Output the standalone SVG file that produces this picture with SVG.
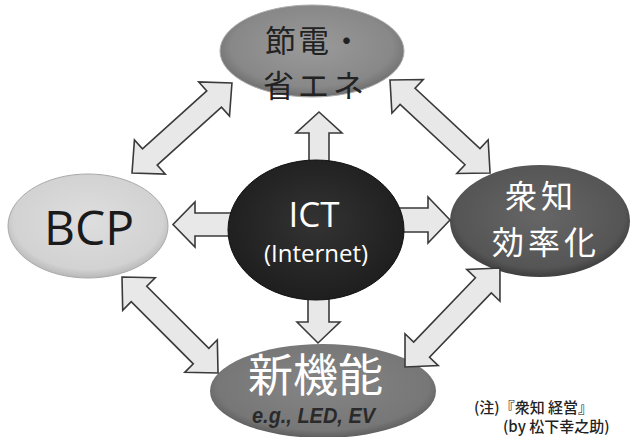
<svg xmlns="http://www.w3.org/2000/svg" width="632" height="437" viewBox="0 0 632 437">
<style>
.arr{fill:#e8e8e8;stroke:#3a3a3a;stroke-width:1.6;stroke-linejoin:miter}
.jp{font-family:"Noto Sans CJK JP","Noto Sans",sans-serif}
.la{font-family:"Open Sans","Liberation Sans",sans-serif;text-anchor:middle}
</style>
<defs>
<radialGradient id="gTop" cx="50%" cy="45%" r="55%"><stop offset="0" stop-color="#9a9a9a"/><stop offset="0.8" stop-color="#888"/><stop offset="1" stop-color="#6e6e6e"/></radialGradient>
<radialGradient id="gBcp" cx="50%" cy="45%" r="55%"><stop offset="0" stop-color="#dedede"/><stop offset="0.85" stop-color="#d2d2d2"/><stop offset="1" stop-color="#b8b8b8"/></radialGradient>
<radialGradient id="gIct" cx="50%" cy="45%" r="55%"><stop offset="0" stop-color="#333"/><stop offset="1" stop-color="#1e1e1e"/></radialGradient>
<radialGradient id="gR" cx="50%" cy="45%" r="55%"><stop offset="0" stop-color="#666"/><stop offset="0.85" stop-color="#555"/><stop offset="1" stop-color="#3e3e3e"/></radialGradient>
<radialGradient id="gB" cx="50%" cy="45%" r="55%"><stop offset="0" stop-color="#858585"/><stop offset="0.85" stop-color="#777"/><stop offset="1" stop-color="#5e5e5e"/></radialGradient>
</defs>
<rect width="632" height="437" fill="#fff"/>
<g id="node-setsuden">
<ellipse cx="312" cy="51" rx="92" ry="46" fill="url(#gTop)" stroke="#aaa" stroke-width="1"/>
<text class="jp" x="265" y="52" font-size="31" letter-spacing="2" fill="#222">節電・</text>
<text class="jp" x="263" y="97" font-size="31" letter-spacing="4" fill="#222">省エネ</text>
</g>
<g id="node-bcp">
<ellipse cx="88" cy="226" rx="80" ry="52" fill="url(#gBcp)" stroke="#aaa" stroke-width="1"/>
<text class="la" x="89" y="245" font-size="48" fill="#1a1a1a">BCP</text>
</g>
<g id="node-shuchi">
<ellipse cx="540" cy="221" rx="90" ry="56" fill="url(#gR)"/>
<text class="jp" x="505" y="208" font-size="32" letter-spacing="4" fill="#fff">衆知</text>
<text class="jp" x="492" y="254" font-size="32" letter-spacing="4" fill="#fff">効率化</text>
</g>
<g id="node-shinkino">
<ellipse cx="323" cy="391" rx="113" ry="47" fill="url(#gB)"/>
<text class="jp" x="248" y="392" font-size="45" fill="#fff">新機能</text>
<text x="252" y="423" font-family="'Liberation Sans',Arial,sans-serif" font-size="22" font-weight="bold" font-style="italic" fill="#2a2a2a" textLength="123" lengthAdjust="spacingAndGlyphs">e.g., LED, EV</text>
</g>
<g id="connectors">
<polygon class="arr" points="309,170 309,133 296,133 319,112 342,133 329,133 329,170"/>
<polygon class="arr" points="245,213 195,213 195,202 173,224.5 195,247 195,236 245,236"/>
<polygon class="arr" points="390,208 428,208 428,197 450,220 428,243 428,232 390,232"/>
<polygon class="arr" points="308,290 308,322 297,322 318,343 340,322 329,322 329,290"/>
<polygon class="arr" transform="translate(132,173) rotate(-42)" points="0,0 24,-23 24,-11 110.5,-11 110.5,-23 134.5,0 110.5,23 110.5,11 24,11 24,23"/>
<polygon class="arr" transform="translate(390,80) rotate(42.9)" points="0,0 24,-23 24,-11 112.6,-11 112.6,-23 136.6,0 112.6,23 112.6,11 24,11 24,23"/>
<polygon class="arr" transform="translate(122,277) rotate(45)" points="0,0 24,-23 24,-11 111.8,-11 111.8,-23 135.8,0 111.8,23 111.8,11 24,11 24,23"/>
<polygon class="arr" transform="translate(405,367) rotate(-46.2)" points="0,0 24,-23 24,-11 113.2,-11 113.2,-23 137.2,0 113.2,23 113.2,11 24,11 24,23"/>
</g>
<g id="node-ict">
<ellipse cx="316" cy="230" rx="88" ry="70" fill="url(#gIct)" stroke="#111" stroke-width="1"/>
<text class="la" x="314" y="227" font-size="35" fill="#fff">ICT</text>
<text class="la" x="316" y="262" font-size="24" fill="#fff">(Internet)</text>
</g>
<g id="note">
<text x="474" y="413" font-family="'Noto Sans CJK JP','Noto Sans',sans-serif" font-size="15" font-weight="500" fill="#222">(注)『衆知 経営』</text>
<text x="503" y="432" font-family="'Noto Sans CJK JP','Noto Sans',sans-serif" font-size="15" font-weight="500" fill="#222">(by 松下幸之助)</text>
</g>
</svg>
